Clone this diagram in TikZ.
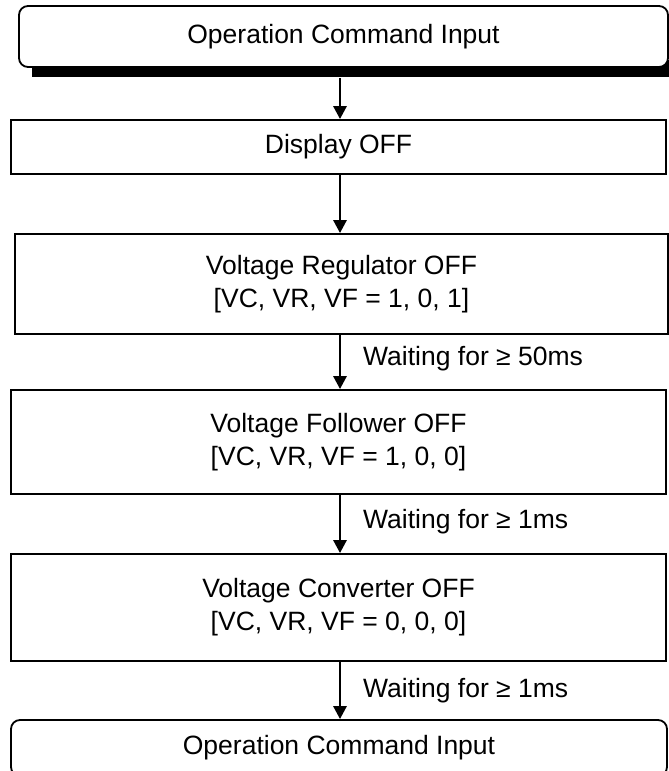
\documentclass[tikz,border=0pt]{standalone}
\usepackage{fontspec}
\setmainfont{Liberation Sans}
\usetikzlibrary{arrows.meta}
\begin{document}
\begin{tikzpicture}[x=1pt,y=-1pt,
  every node/.style={font=\fontsize{26.5pt}{33pt}\selectfont, inner sep=0pt},
  box/.style={draw, line width=1.8pt, fill=white, align=center},
  rbox/.style={box, rounded corners=9pt},
  arr/.style={line width=2.8pt, -{Triangle[length=13pt,width=13pt]}},
  lbl/.style={anchor=west}
]
\useasboundingbox (0,0) rectangle (669,771);
\begin{scope}
\clip (0,0) rectangle (669,771);
% shadow of the top box
\fill[black] (32,60) rectangle (669,77);
\node[rbox, minimum width=649pt, minimum height=61pt] (top) at (343.5,36.5) {Operation Command Input};
\node[box, minimum width=655pt, minimum height=54pt] (disp) at (338.5,147) {Display OFF};
\node[box, minimum width=653pt, minimum height=100pt] (reg) at (341.5,284) {Voltage Regulator OFF\\{}[VC, VR, VF = 1, 0, 1]};
\node[box, minimum width=655pt, minimum height=104pt] (fol) at (338.5,442) {Voltage Follower OFF\\{}[VC, VR, VF = 1, 0, 0]};
\node[box, minimum width=655pt, minimum height=107pt] (con) at (338.5,607.5) {Voltage Converter OFF\\{}[VC, VR, VF = 0, 0, 0]};
\node[rbox, minimum width=656pt, minimum height=56pt] (bot) at (339,748) {\raisebox{2pt}{Operation Command Input}};
\coordinate (s0) at (340,78);
\draw[arr] (s0) -- (s0 |- disp.north);
\draw[arr] (disp.south -| s0) -- (reg.north -| s0);
\draw[arr] (reg.south -| s0) -- (fol.north -| s0);
\draw[arr] (fol.south -| s0) -- (con.north -| s0);
\draw[arr] (con.south -| s0) -- (bot.north -| s0);
\node[lbl] (w1) at (363,359) {Waiting for ≥ 50ms};
\node[lbl] (w2) at (363,522) {Waiting for ≥ 1ms};
\node[lbl] (w3) at (363,691) {Waiting for ≥ 1ms};
\end{scope}
\end{tikzpicture}
\end{document}
